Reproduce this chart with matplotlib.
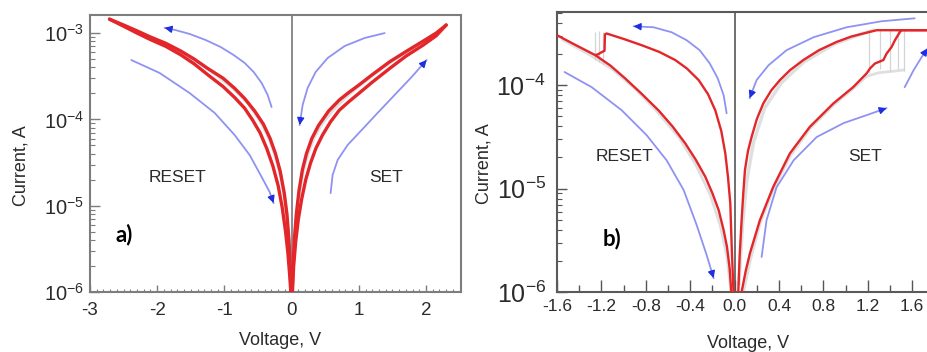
import numpy as np
import matplotlib
matplotlib.use("Agg")
import matplotlib.pyplot as plt
from matplotlib.ticker import FixedLocator, MultipleLocator, LogLocator, FuncFormatter, NullFormatter

plt.rcParams['font.family'] = ['Liberation Sans', 'DejaVu Sans']
plt.rcParams['mathtext.fontset'] = 'custom'
plt.rcParams['mathtext.rm'] = 'Liberation Sans'
plt.rcParams['mathtext.it'] = 'Liberation Sans'
plt.rcParams['axes.unicode_minus'] = False

# ---------------- panel a) data ----------------
a_reset_hi_v = [-2.71, -2.5, -2.3, -2.1, -1.87, -1.65, -1.45, -1.25, -1.02, -0.85, -0.7, -0.55, -0.42, -0.32, -0.24, -0.17, -0.11, -0.07, -0.04, -0.02, -0.008]
a_reset_hi_i = [1.45e-3, 1.24e-3, 1.06e-3, 9.0e-4, 7.6e-4, 6.2e-4, 5.0e-4, 3.9e-4, 3.0e-4, 2.3e-4, 1.75e-4, 1.25e-4, 8.8e-5, 6.0e-5, 4.0e-5, 2.5e-5, 1.4e-5, 8.0e-6, 4.0e-6, 2.0e-6, 1.0e-6]
a_reset_lo_v = [-2.71, -2.5, -2.3, -2.1, -1.87, -1.65, -1.45, -1.25, -1.02, -0.85, -0.7, -0.58, -0.47, -0.37, -0.28, -0.2, -0.14, -0.09, -0.055, -0.03, -0.012]
a_reset_lo_i = [1.45e-3, 1.2e-3, 1.0e-3, 8.4e-4, 7.0e-4, 5.6e-4, 4.4e-4, 3.3e-4, 2.4e-4, 1.8e-4, 1.35e-4, 9.8e-5, 7.0e-5, 4.6e-5, 2.9e-5, 1.7e-5, 9.5e-6, 5.0e-6, 2.8e-6, 1.6e-6, 1.0e-6]
a_set_hi_v = [0.008, 0.02, 0.04, 0.07, 0.11, 0.16, 0.22, 0.3, 0.4, 0.55, 0.71, 0.85, 1.0, 1.2, 1.46, 1.7, 1.95, 2.15, 2.3]
a_set_hi_i = [1.0e-6, 2.0e-6, 4.0e-6, 8.0e-6, 1.5e-5, 2.6e-5, 4.0e-5, 6.0e-5, 8.5e-5, 1.25e-4, 1.68e-4, 2.05e-4, 2.5e-4, 3.3e-4, 4.66e-4, 6.1e-4, 8.0e-4, 1.0e-3, 1.24e-3]
a_set_lo_v = [0.012, 0.03, 0.06, 0.1, 0.15, 0.21, 0.28, 0.36, 0.46, 0.58, 0.71, 0.85, 1.0, 1.2, 1.46, 1.7, 1.95, 2.15, 2.3]
a_set_lo_i = [1.0e-6, 2.0e-6, 3.8e-6, 7.0e-6, 1.2e-5, 2.0e-5, 3.1e-5, 4.6e-5, 6.6e-5, 9.4e-5, 1.28e-4, 1.6e-4, 2.0e-4, 2.7e-4, 3.9e-4, 5.4e-4, 7.2e-4, 9.3e-4, 1.24e-3]
a_gray_reset_v = [-2.6, -2.3, -2.0, -1.7, -1.4, -1.1, -0.85, -0.65, -0.48, -0.35, -0.25, -0.16, -0.1, -0.05, -0.02]
a_gray_reset_i = [1.33e-3, 1.05e-3, 8.2e-4, 6.3e-4, 4.65e-4, 3.2e-4, 2.22e-4, 1.55e-4, 1.0e-4, 6.4e-5, 4.0e-5, 2.2e-5, 1.15e-5, 4.6e-6, 1.8e-6]
a_gray_set_v = [0.02, 0.05, 0.1, 0.16, 0.24, 0.33, 0.45, 0.6, 0.8, 1.0, 1.25, 1.5, 1.8, 2.1]
a_gray_set_i = [1.9e-6, 4.7e-6, 1.15e-5, 2.35e-5, 4.0e-5, 6.1e-5, 8.9e-5, 1.25e-4, 1.8e-4, 2.45e-4, 3.45e-4, 4.8e-4, 6.8e-4, 9.4e-4]
# direction arrows (panel a)
a_arr1_v = [-0.298, -0.357, -0.446, -0.565, -0.699, -0.863, -1.057, -1.28, -1.518, -1.741, -1.89]
a_arr1_i = [1.39e-4, 1.92e-4, 2.64e-4, 3.54e-4, 4.51e-4, 5.57e-4, 6.9e-4, 8.32e-4, 9.77e-4, 1.09e-3, 1.15e-3]
a_arr2_v = [-2.385, -1.964, -1.518, -1.146, -0.848, -0.625, -0.446, -0.327, -0.268]
a_arr2_i = [4.87e-4, 3.45e-4, 2.02e-4, 1.19e-4, 6.59e-5, 3.87e-5, 2.15e-5, 1.44e-5, 1.07e-5]
a_arr3_v = [1.384, 1.086, 0.789, 0.536, 0.357, 0.238, 0.164, 0.119]
a_arr3_i = [1.0e-3, 8.77e-4, 7.08e-4, 5.14e-4, 3.54e-4, 2.31e-4, 1.47e-4, 8.6e-5]
a_arr4_v = [0.58, 0.61, 0.685, 0.833, 1.042, 1.28, 1.533, 1.786, 2.009]
a_arr4_i = [1.4e-5, 2.27e-5, 3.39e-5, 5.05e-5, 7.53e-5, 1.19e-4, 1.92e-4, 3.1e-4, 4.88e-4]

# ---------------- panel b) data ----------------
b_reset_hi_v = [-0.01, -0.025, -0.039, -0.06, -0.084, -0.12, -0.174, -0.24, -0.324, -0.43, -0.535, -0.68, -0.835, -1.0, -1.153,
                -1.168, -1.172, -1.2, -1.225, -1.255]
b_reset_hi_i = [1.0e-6, 2.5e-6, 7.2e-6, 1.3e-5, 2.19e-5, 3.6e-5, 5.7e-5, 8.2e-5, 1.12e-4, 1.45e-4, 1.75e-4, 2.1e-4, 2.43e-4, 2.8e-4, 3.16e-4,
                3.1e-4, 2.15e-4, 2.08e-4, 2.0e-4, 1.95e-4]
b_reset_lo_v = [-1.6, -1.45, -1.255, -1.12, -0.985, -0.84, -0.685, -0.56, -0.444, -0.35, -0.264, -0.2, -0.144, -0.1, -0.069, -0.045, -0.03]
b_reset_lo_i = [3.04e-4, 2.5e-4, 1.95e-4, 1.55e-4, 1.16e-4, 8.3e-5, 5.7e-5, 4.0e-5, 2.73e-5, 1.9e-5, 1.3e-5, 9.0e-6, 6.2e-6, 4.0e-6, 2.74e-6, 1.7e-6, 1.0e-6]
b_set_hi_v = [0.033, 0.045, 0.063, 0.078, 0.093, 0.12, 0.153, 0.2, 0.258, 0.33, 0.408, 0.5, 0.619, 0.76, 0.919, 1.05, 1.159, 1.279, 1.9]
b_set_hi_i = [1.0e-6, 2.2e-6, 4.96e-6, 9.0e-6, 1.51e-5, 2.3e-5, 3.16e-5, 4.7e-5, 6.65e-5, 8.9e-5, 1.12e-4, 1.4e-4, 1.75e-4, 2.18e-4, 2.62e-4, 2.95e-4, 3.16e-4, 3.4e-4, 3.4e-4]
b_set_lo_v = [0.063, 0.1, 0.138, 0.228, 0.348, 0.498, 0.678, 0.889, 1.069, 1.189, 1.219, 1.264, 1.34, 1.369, 1.414, 1.444, 1.489, 1.505, 1.9]
b_set_lo_i = [1.0e-6, 1.6e-6, 2.37e-6, 4.96e-6, 1.04e-5, 2.19e-5, 3.96e-5, 6.65e-5, 9.6e-5, 1.3e-4, 1.45e-4, 1.62e-4, 1.75e-4, 2.02e-4, 2.34e-4, 2.72e-4, 3.27e-4, 3.4e-4, 3.4e-4]
b_gray_reset_v = [-1.55, -1.3, -1.1, -0.9, -0.7, -0.5, -0.35, -0.22, -0.13, -0.07, -0.035]
b_gray_reset_i = [2.75e-4, 1.95e-4, 1.42e-4, 9.3e-5, 5.6e-5, 3.1e-5, 1.7e-5, 8.7e-6, 4.4e-6, 2.2e-6, 1.05e-6]
b_gray_set_hi_v = [0.04, 0.07, 0.11, 0.17, 0.27, 0.42, 0.62, 0.9, 1.15, 1.25]
b_gray_set_hi_i = [1.2e-6, 4.3e-6, 1.2e-5, 2.8e-5, 6.0e-5, 1.05e-4, 1.67e-4, 2.5e-4, 3.15e-4, 3.4e-4]
b_gray_set_lo_v = [0.08, 0.14, 0.23, 0.35, 0.5, 0.68, 0.89, 1.07, 1.19, 1.3, 1.42, 1.52]
b_gray_set_lo_i = [1.0e-6, 2.0e-6, 4.6e-6, 9.8e-6, 2.05e-5, 3.8e-5, 6.4e-5, 9.3e-5, 1.22e-4, 1.32e-4, 1.36e-4, 1.4e-4]
b_gray_setstep_v = [1.21, 1.31, 1.4, 1.47, 1.53]
b_gray_setstep_lo = [1.3e-4, 1.42e-4, 1.38e-4, 1.42e-4, 1.38e-4]
b_gray_setstep_hi = [3.4e-4, 3.4e-4, 3.4e-4, 3.4e-4, 3.4e-4]
b_gray_rststep_v = [-1.26, -1.22, -1.19]
b_gray_rststep_lo = [1.75e-4, 1.68e-4, 1.62e-4]
b_gray_rststep_hi = [3.3e-4, 3.35e-4, 3.3e-4]
# direction arrows (panel b)
b_arr1_v = [-0.072, -0.099, -0.153, -0.225, -0.315, -0.432, -0.568, -0.73, -0.91]
b_arr1_i = [5.35e-5, 8.0e-5, 1.17e-4, 1.63e-4, 2.18e-4, 2.72e-4, 3.25e-4, 3.63e-4, 3.71e-4]
b_arr2_v = [-1.532, -1.288, -1.018, -0.793, -0.613, -0.459, -0.342, -0.252, -0.189]
b_arr2_i = [1.34e-4, 9.57e-5, 5.73e-5, 3.29e-5, 1.88e-5, 9.68e-6, 4.44e-6, 2.28e-6, 1.36e-6]
b_arr3_v = [1.622, 1.324, 1.009, 0.712, 0.468, 0.306, 0.198, 0.135]
b_arr3_i = [4.43e-4, 4.15e-4, 3.63e-4, 2.91e-4, 2.18e-4, 1.56e-4, 1.12e-4, 7.48e-5]
b_arr4_v = [0.243, 0.288, 0.378, 0.532, 0.739, 0.982, 1.189, 1.369]
b_arr4_i = [2.18e-6, 4.97e-6, 1.03e-5, 1.88e-5, 3.15e-5, 4.3e-5, 5.13e-5, 6.0e-5]
b_arr5_v = [1.532, 1.613, 1.685, 1.739]
b_arr5_i = [9.57e-5, 1.4e-4, 1.87e-4, 2.27e-4]

RED = '#e3262a'
GRAY = '#c9cccc'
BLUE_L = '#8f92f2'
BLUE_D = '#1f2ee0'
SPINE = '#7d7d7d'
TXT = '#2b2b2b'

fig = plt.figure(figsize=(9.28, 3.52), dpi=100)
W, H = 928.0, 352.0
axa = fig.add_axes([90 / W, 1 - 292 / H, (461 - 90) / W, (292 - 15) / H])
axb = fig.add_axes([557 / W, 1 - 292 / H, (935 - 557) / W, (292 - 12) / H])


def arrow(ax, xs, ys):
    ax.plot(xs, ys, color=BLUE_L, lw=1.3, solid_capstyle='round', solid_joinstyle='round', zorder=3)
    x0 = xs[-1] + 0.3 * (xs[-2] - xs[-1])
    y0 = ys[-1] * (ys[-2] / ys[-1]) ** 0.3
    ax.annotate('', xy=(xs[-1], ys[-1]), xytext=(x0, y0),
                arrowprops=dict(arrowstyle='-|>,head_length=0.6,head_width=0.3', color=BLUE_D,
                                lw=1.0, shrinkA=0, shrinkB=0, mutation_scale=7), zorder=4)


def log_fmt(v, p):
    e = int(round(np.log10(v)))
    return r'$\mathregular{10^{%d}}$' % e


# ---------------- panel a ----------------
ax = axa
ax.set_yscale('log')
ax.axvline(0, color='#8a8a8a', lw=1.4, zorder=1)
ax.plot(a_gray_reset_v, a_gray_reset_i, color=GRAY, lw=2.5, alpha=0.6, zorder=2)
ax.plot(a_gray_set_v, a_gray_set_i, color=GRAY, lw=2.5, alpha=0.6, zorder=2)
for v, i in [(a_reset_hi_v, a_reset_hi_i), (a_reset_lo_v, a_reset_lo_i),
             (a_set_hi_v, a_set_hi_i), (a_set_lo_v, a_set_lo_i)]:
    ax.plot(v, i, color=RED, lw=2.4, zorder=5, solid_capstyle='round', solid_joinstyle='round')
for v, i in [(a_arr1_v, a_arr1_i), (a_arr2_v, a_arr2_i), (a_arr3_v, a_arr3_i), (a_arr4_v, a_arr4_i)]:
    arrow(ax, v, i)
ax.set_xlim(-3, 2.52)
ax.set_ylim(1e-6, 1.62e-3)
ax.xaxis.set_major_locator(MultipleLocator(1))
ax.xaxis.set_minor_locator(MultipleLocator(0.1))
ax.yaxis.set_major_locator(LogLocator(10))
ax.yaxis.set_minor_locator(LogLocator(10, subs=np.arange(2, 10)))
ax.yaxis.set_major_formatter(FuncFormatter(log_fmt))
ax.yaxis.set_minor_formatter(NullFormatter())
ax.tick_params(axis='x', which='major', direction='in', length=5, width=1.0, color=SPINE,
               labelsize=13.5, labelcolor=TXT, pad=7, top=False)
ax.tick_params(axis='x', which='minor', direction='in', length=2.5, width=0.8, color=SPINE, top=False)
ax.tick_params(axis='y', which='major', direction='in', length=7, width=1.0, color=SPINE,
               labelsize=14.5, labelcolor=TXT, pad=4, right=False)
ax.tick_params(axis='y', which='minor', direction='in', length=3.5, width=0.8, color=SPINE, right=False)
for s in ax.spines.values():
    s.set_color(SPINE)
    s.set_linewidth(1.5)
ax.set_xlabel('Voltage, V', fontsize=13, color=TXT)
ax.set_ylabel('Current, A', fontsize=13, color=TXT)
ax.xaxis.set_label_coords(0.512, -0.145)
ax.yaxis.set_label_coords(-0.162, 0.458)
ax.text(-1.7, 2.1e-5, 'RESET', fontsize=12.5, color=TXT, ha='center', va='center')
ax.text(1.40, 2.1e-5, 'SET', fontsize=12.5, color=TXT, ha='center', va='center')
ax.text(-2.49, 4.6e-6, 'a)', fontsize=16, fontweight='bold', family=['Lato', 'DejaVu Sans'],
        color='black', ha='center', va='center')

# ---------------- panel b ----------------
ax = axb
ax.set_yscale('log')
ax.axvline(0, color='#6f6f6f', lw=1.4, zorder=1)
ax.plot(b_gray_reset_v, b_gray_reset_i, color=GRAY, lw=2.0, alpha=0.6, zorder=2)
ax.plot(b_gray_set_hi_v, b_gray_set_hi_i, color=GRAY, lw=2.5, alpha=0.6, zorder=2)
ax.plot(b_gray_set_lo_v, b_gray_set_lo_i, color=GRAY, lw=2.0, alpha=0.6, zorder=2)
ax.vlines(b_gray_setstep_v, b_gray_setstep_lo, b_gray_setstep_hi, color=GRAY, lw=0.9, alpha=0.8, zorder=2)
ax.vlines(b_gray_rststep_v, b_gray_rststep_lo, b_gray_rststep_hi, color=GRAY, lw=0.9, alpha=0.8, zorder=2)
for v, i in [(b_reset_hi_v, b_reset_hi_i), (b_reset_lo_v, b_reset_lo_i),
             (b_set_hi_v, b_set_hi_i), (b_set_lo_v, b_set_lo_i)]:
    ax.plot(v, i, color=RED, lw=1.7, zorder=5, solid_capstyle='round', solid_joinstyle='round')
for v, i in [(b_arr1_v, b_arr1_i), (b_arr2_v, b_arr2_i), (b_arr3_v, b_arr3_i),
             (b_arr4_v, b_arr4_i), (b_arr5_v, b_arr5_i)]:
    arrow(ax, v, i)
ax.set_xlim(-1.6, 1.805)
ax.set_ylim(1e-6, 5.1e-4)
ax.xaxis.set_major_locator(FixedLocator([-1.6, -1.2, -0.8, -0.4, 0.0, 0.4, 0.8, 1.2, 1.6]))
ax.xaxis.set_minor_locator(MultipleLocator(0.2))
ax.xaxis.set_major_formatter(FuncFormatter(lambda v, p: '%.1f' % v if abs(v) > 1e-9 else '0.0'))
ax.yaxis.set_major_locator(LogLocator(10))
ax.yaxis.set_minor_locator(LogLocator(10, subs=np.arange(2, 10)))
ax.yaxis.set_major_formatter(FuncFormatter(log_fmt))
ax.yaxis.set_minor_formatter(NullFormatter())
ax.tick_params(axis='x', which='major', direction='in', length=9, width=1.0, color='#555555',
               labelsize=12.5, labelcolor=TXT, pad=5, top=False)
ax.tick_params(axis='x', which='minor', direction='in', length=5, width=1.0, color='#555555', top=False)
ax.tick_params(axis='y', which='major', direction='in', length=7, width=1.0, color='#555555',
               labelsize=18, labelcolor=TXT, pad=8, right=False)
ax.tick_params(axis='y', which='minor', direction='in', length=3.5, width=0.8, color='#555555', right=False)
for s in ax.spines.values():
    s.set_color('#5a5a5a')
    s.set_linewidth(1.5)
ax.set_xlabel('Voltage, V', fontsize=13, color=TXT)
ax.set_ylabel('Current, A', fontsize=13, color=TXT)
ax.xaxis.set_label_coords(0.505, -0.153)
ax.yaxis.set_label_coords(-0.170, 0.46)
ax.text(-0.988, 2.03e-5, 'RESET', fontsize=12.5, color=TXT, ha='center', va='center')
ax.text(1.174, 2.03e-5, 'SET', fontsize=12.5, color=TXT, ha='center', va='center')
ax.text(-1.108, 3.3e-6, 'b)', fontsize=16, fontweight='bold', family=['Lato', 'DejaVu Sans'],
        color='black', ha='center', va='center')

fig.savefig('out.png', dpi=100)
